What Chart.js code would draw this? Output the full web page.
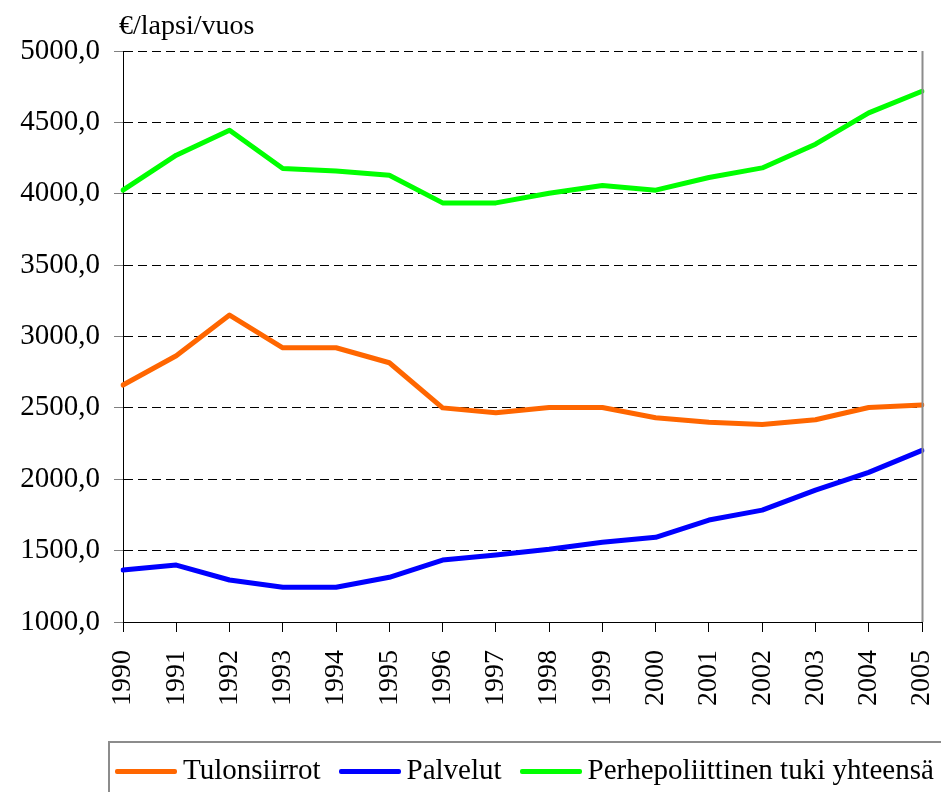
<!DOCTYPE html>
<html>
<head>
<meta charset="utf-8">
<script src="https://cdn.jsdelivr.net/npm/chart.js@4/dist/chart.umd.min.js"></script>
<style>
  html, body { margin: 0; padding: 0; background: #fff; }
  #wrap { position: relative; width: 941px; height: 792px; overflow: hidden; }
  #c { position: absolute; left: 0; top: 0; }
  #legend {
    position: absolute; left: 108px; top: 741px; width: 900px; height: 60px;
    border: 2px solid #8c8c8c; box-sizing: border-box;
    font-family: 'Liberation Serif', 'Tinos', 'DejaVu Serif', serif; font-size: 29px; color: #000;
    display: flex; align-items: center; padding-left: 5px; white-space: nowrap;
  }
  #legend .item { display: flex; align-items: center; margin-right: 18px; }
  #legend .line { width: 62px; height: 5px; margin-right: 6px; border-radius: 2px; }
  #legend .txt { position: relative; top: -2px; }
</style>
</head>
<body>
<div id="wrap">
  <canvas id="c" width="941" height="792"></canvas>
  <div id="legend"></div>
</div>
<script>
const categories = ['1990','1991','1992','1993','1994','1995','1996','1997','1998','1999','2000','2001','2002','2003','2004','2005'];
const tulonsiirrot = [2660, 2865, 3150, 2921, 2921, 2816, 2500, 2466, 2503, 2503, 2431, 2400, 2383, 2417, 2503, 2520];
const palvelut     = [1364, 1399, 1294, 1243, 1243, 1313, 1434, 1469, 1509, 1558, 1593, 1714, 1784, 1924, 2048, 2202];
const yhteensa     = [4025, 4270, 4445, 4177, 4160, 4130, 3936, 3936, 4004, 4058, 4025, 4114, 4181, 4347, 4567, 4718];
const seriesNames  = ['Tulonsiirrot', 'Palvelut', 'Perhepoliittinen tuki yhteensä'];
const seriesColors = ['#FF6600', '#0000FF', '#00FF00'];
const yTickValues  = [1000, 1500, 2000, 2500, 3000, 3500, 4000, 4500, 5000];
const unitLabel    = '€/lapsi/vuos';

const SERIF = "'Liberation Serif', 'Tinos', 'DejaVu Serif', serif";

const unitPlugin = {
  id: 'unitText',
  afterDraw(chart) {
    const ctx = chart.ctx;
    ctx.save();
    ctx.font = '28px ' + SERIF;
    ctx.fillStyle = '#000';
    ctx.textBaseline = 'alphabetic';
    ctx.textAlign = 'left';
    ctx.fillText(unitLabel, 119, 34);
    ctx.restore();
  }
};

const rightBorder = {
  id: 'rightBorder',
  afterDatasetsDraw(chart) {
    const a = chart.chartArea, ctx = chart.ctx;
    ctx.save();
    ctx.strokeStyle = '#8c8c8c';
    ctx.lineWidth = 2;
    ctx.beginPath();
    ctx.moveTo(a.right + 0.5, a.top);
    ctx.lineTo(a.right + 0.5, a.bottom);
    ctx.stroke();
    ctx.restore();
  }
};

const values = [tulonsiirrot, palvelut, yhteensa];
const chart = new Chart(document.getElementById('c'), {
  type: 'line',
  data: {
    labels: categories,
    datasets: values.map((v, i) => ({
      label: seriesNames[i],
      data: v,
      borderColor: seriesColors[i],
      backgroundColor: seriesColors[i],
      borderWidth: 5,
      pointRadius: 0,
      tension: 0,
      fill: false,
      borderJoinStyle: 'round',
      borderCapStyle: 'round'
    }))
  },
  options: {
    responsive: false,
    animation: false,
    devicePixelRatio: 1,
    layout: { padding: { top: 51, right: 19, left: 0, bottom: 0 } },
    plugins: { legend: { display: false }, tooltip: { enabled: false }, title: { display: false } },
    scales: {
      x: {
        type: 'category',
        offset: false,
        afterFit(s) { s.height = 170; s.paddingLeft = 0; s.paddingRight = 0; },
        grid: { drawOnChartArea: false, drawTicks: true, tickLength: 10, tickColor: '#000', tickWidth: 1 },
        border: { display: true, color: '#000', width: 1 },
        ticks: {
          autoSkip: false, minRotation: 90, maxRotation: 90, padding: 18,
          color: '#000', font: { family: SERIF, size: 28 }
        }
      },
      y: {
        min: 1000, max: 5000,
        afterFit(s) { s.width = 123; s.paddingTop = 0; s.paddingBottom = 0; },
        afterBuildTicks(s) { s.ticks = yTickValues.map(v => ({ value: v })); },
        grid: { color: '#000', lineWidth: 1, drawTicks: true, tickLength: 9, tickColor: '#808080', tickBorderDash: [] },
        border: { display: true, color: '#000', width: 1, dash: [9, 5] },
        ticks: {
          padding: 14, color: '#000', font: { family: SERIF, size: 29 },
          callback: v => v.toFixed(1).replace('.', ',')
        }
      }
    }
  },
  plugins: [unitPlugin, rightBorder]
});

const legend = document.getElementById('legend');
chart.data.datasets.forEach(ds => {
  const item = document.createElement('div');
  item.className = 'item';
  const ln = document.createElement('div');
  ln.className = 'line';
  ln.style.background = ds.borderColor;
  const tx = document.createElement('span');
  tx.className = 'txt';
  tx.textContent = ds.label;
  item.appendChild(ln);
  item.appendChild(tx);
  legend.appendChild(item);
});
</script>
</body>
</html>
